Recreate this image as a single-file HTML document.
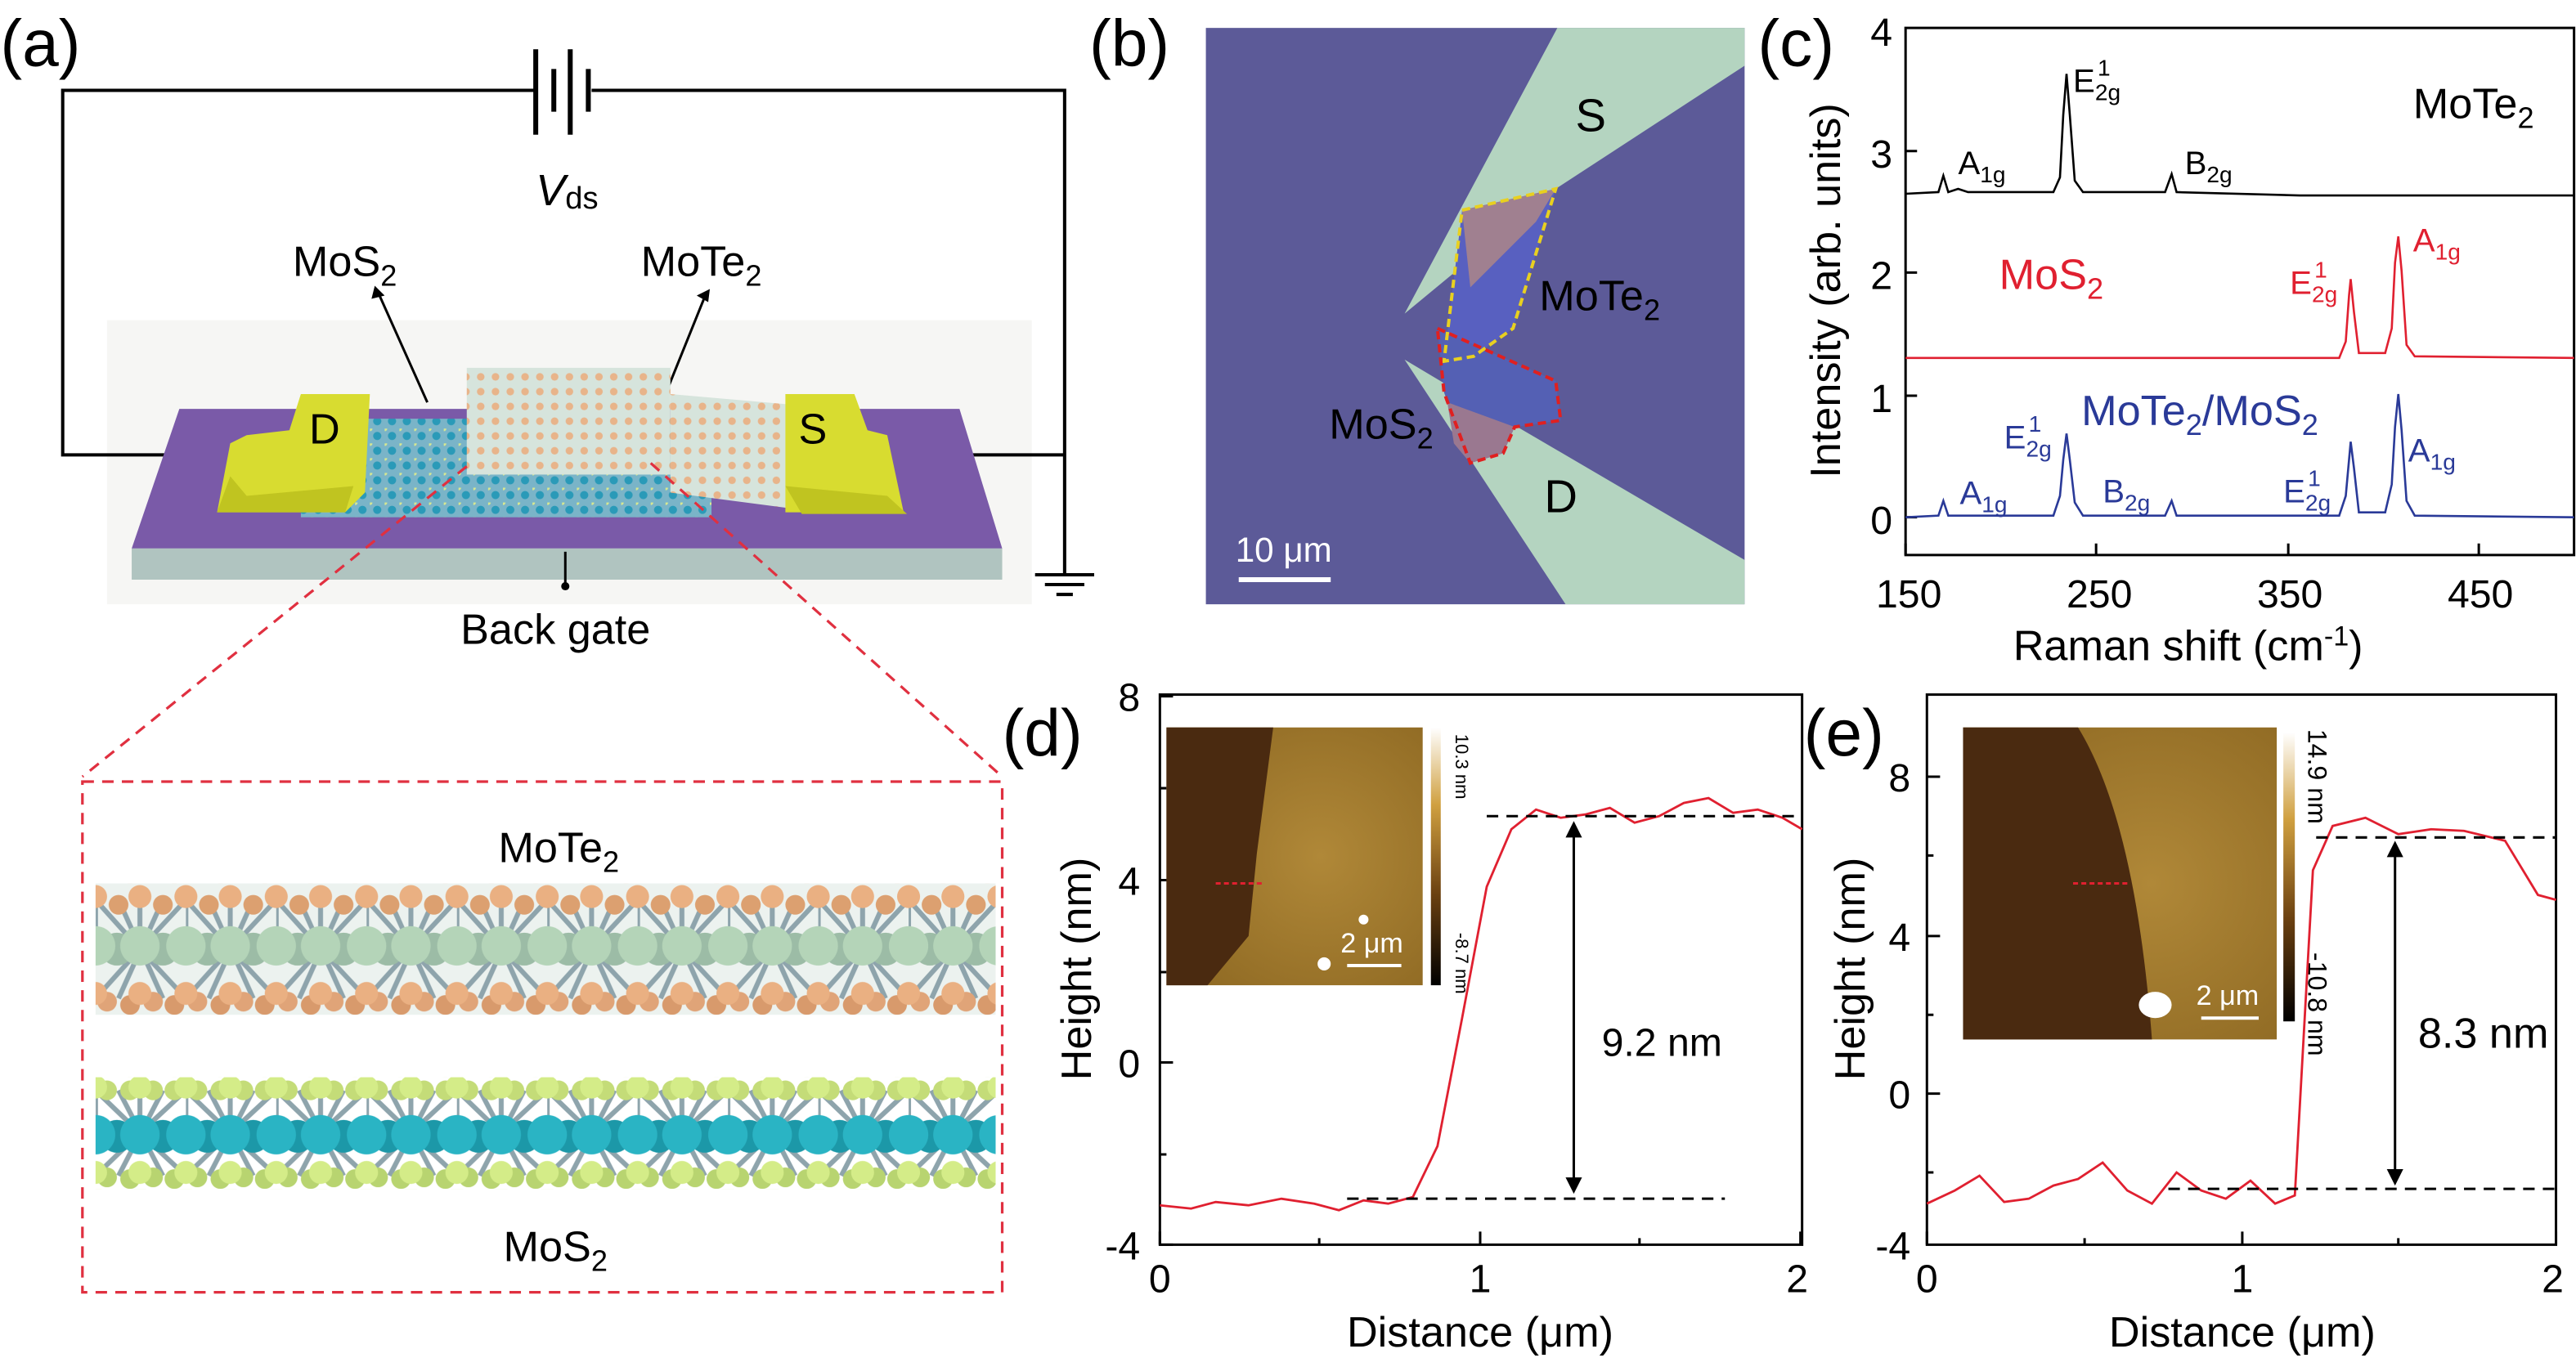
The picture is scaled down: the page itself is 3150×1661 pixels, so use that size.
<!DOCTYPE html>
<html><head><meta charset="utf-8"><style>
html,body{margin:0;padding:0;background:#fff;}
svg{display:block;}
text{font-family:"Liberation Sans",Arial,sans-serif;}
</style></head><body>
<svg width="3150" height="1661" viewBox="0 0 1568 827" xmlns="http://www.w3.org/2000/svg">
<defs>
<pattern id="mote" x="58" y="538" width="55" height="80" patternUnits="userSpaceOnUse">
<rect width="55" height="80" fill="#c8d8d0" opacity="0.35"/>
<path d="M0 10 L27 40 L55 10 M0 70 L27 40 L55 70 M14 10 L41 70 M41 10 L14 70 M0 40 L0 10 M27 40 V10" stroke="#8ea4ac" stroke-width="3" fill="none"/>
<circle cx="13" cy="40" r="10" fill="#9cbca6"/><circle cx="41" cy="40" r="10" fill="#9cbca6"/>
<circle cx="27" cy="38" r="12" fill="#b4d4b8"/><circle cx="0" cy="38" r="12" fill="#b4d4b8"/><circle cx="55" cy="38" r="12" fill="#b4d4b8"/>
<circle cx="14" cy="13" r="6" fill="#dca070"/><circle cx="41" cy="13" r="6" fill="#dca070"/>
<circle cx="0" cy="8" r="7" fill="#eab082"/><circle cx="27" cy="8" r="7" fill="#eab082"/><circle cx="55" cy="8" r="7" fill="#eab082"/>
<circle cx="7" cy="72" r="6" fill="#e0a478"/><circle cx="21" cy="74" r="6" fill="#d89a6c"/><circle cx="35" cy="72" r="6" fill="#e0a478"/><circle cx="48" cy="74" r="6" fill="#d89a6c"/>
<circle cx="0" cy="67" r="7" fill="#eab082"/><circle cx="27" cy="67" r="7" fill="#eab082"/><circle cx="55" cy="67" r="7" fill="#eab082"/>
</pattern>
<pattern id="mos" x="58" y="656" width="55" height="68" patternUnits="userSpaceOnUse">
<path d="M0 8 L27 34 L55 8 M0 60 L27 34 L55 60 M14 8 L41 60 M41 8 L14 60 M27 34 V8 M0 34 V8" stroke="#8ea4ac" stroke-width="3" fill="none"/>
<circle cx="7" cy="8" r="6" fill="#c4dc78"/><circle cx="21" cy="8" r="6" fill="#c4dc78"/><circle cx="35" cy="8" r="6" fill="#c4dc78"/><circle cx="48" cy="8" r="6" fill="#c4dc78"/>
<circle cx="13" cy="36" r="10" fill="#1c98a8"/><circle cx="41" cy="36" r="10" fill="#1c98a8"/>
<circle cx="27" cy="35" r="12" fill="#2ab4c4"/><circle cx="0" cy="35" r="12" fill="#2ab4c4"/><circle cx="55" cy="35" r="12" fill="#2ab4c4"/>
<circle cx="0" cy="6" r="7" fill="#d4ec88"/><circle cx="27" cy="6" r="7" fill="#d4ec88"/><circle cx="55" cy="6" r="7" fill="#d4ec88"/>
<circle cx="7" cy="61" r="6" fill="#b8d470"/><circle cx="21" cy="62" r="6" fill="#b8d470"/><circle cx="35" cy="61" r="6" fill="#b8d470"/><circle cx="48" cy="62" r="6" fill="#b8d470"/>
<circle cx="0" cy="58" r="7" fill="#d4ec88"/><circle cx="27" cy="58" r="7" fill="#d4ec88"/><circle cx="55" cy="58" r="7" fill="#d4ec88"/>
</pattern>
<pattern id="lat1" width="9" height="9" patternUnits="userSpaceOnUse"><rect width="9" height="9" fill="#d6e4dc"/><circle cx="4.5" cy="4.5" r="2.3" fill="#e8b48a"/></pattern>
<pattern id="lat2" width="9" height="9" patternUnits="userSpaceOnUse"><rect width="9" height="9" fill="#7ab4c8"/><circle cx="4.5" cy="4.5" r="2.5" fill="#2a9ab8"/><circle cx="0" cy="0" r="1.6" fill="#d8e890"/></pattern>
<radialGradient id="afm" cx="0.6" cy="0.5" r="0.8"><stop offset="0" stop-color="#b08838"/><stop offset="1" stop-color="#8a6520"/></radialGradient>
<linearGradient id="cbar" x1="0" y1="0" x2="0" y2="1"><stop offset="0" stop-color="#fff"/><stop offset="0.3" stop-color="#d0a040"/><stop offset="0.65" stop-color="#6a4010"/><stop offset="1" stop-color="#000"/></linearGradient>
</defs>

<!-- ===== (a) ===== -->
<text x="0" y="40" font-size="40">(a)</text>
<rect x="65" y="195" width="563" height="173" fill="#f6f6f4"/>
<g stroke="#000" stroke-width="2" fill="none">
<path d="M325 55 H38 V277 H150"/>
<path d="M360 55 H648 V350"/>
<path d="M540 277 H648"/>
<path d="M630 350 H666 M636 356 H660 M643 362 H653"/>
</g>
<g stroke="#000" stroke-width="3">
<line x1="326" y1="30" x2="326" y2="82"/><line x1="337" y1="42" x2="337" y2="68"/>
<line x1="347" y1="30" x2="347" y2="82"/><line x1="358" y1="42" x2="358" y2="68"/>
</g>
<text x="326" y="125" font-size="27" font-style="italic">V</text><text x="344" y="127" font-size="19">ds</text>
<text x="178" y="168" font-size="26">MoS<tspan font-size="18" dy="6">2</tspan></text>
<text x="390" y="168" font-size="26">MoTe<tspan font-size="18" dy="6">2</tspan></text>
<g stroke="#000" stroke-width="1.5"><line x1="230" y1="178" x2="260" y2="245"/><line x1="430" y1="178" x2="405" y2="240"/></g>
<path d="M226 182 l2 -8 l6 6 z M432 176 l-1 8 l-7 -4 z" fill="#000"/>
<polygon points="109,249 584,249 610,334 80,334" fill="#7a5aa8"/>
<rect x="80" y="334" width="530" height="19" fill="#b0c4c0"/>
<rect x="183" y="255" width="250" height="60" fill="url(#lat2)"/>
<rect x="284" y="224" width="124" height="65" fill="url(#lat1)"/>
<polygon points="408,240 500,248 507,313 408,300" fill="url(#lat1)"/>
<polygon points="183,240 225,240 222,300 210,312 132,312 140,270 150,265 176,262" fill="#d8dc30"/>
<polygon points="132,312 140,290 150,302 215,296 210,312" fill="#c0c420"/>
<text x="188" y="270" font-size="26">D</text>
<polygon points="478,240 520,240 528,262 540,265 550,312 478,312" fill="#d8dc30"/>
<polygon points="478,296 540,302 552,313 488,313" fill="#c0c420"/>
<text x="486" y="270" font-size="26">S</text>
<line x1="344" y1="336" x2="344" y2="356" stroke="#000" stroke-width="1.5"/><circle cx="344" cy="357" r="2.5"/>
<text x="338" y="392" font-size="26" text-anchor="middle">Back gate</text>
<g stroke="#e03040" stroke-width="1.6" stroke-dasharray="7,5" fill="none">
<line x1="284" y1="284" x2="50" y2="473"/><line x1="396" y1="282" x2="610" y2="473"/>
<rect x="50" y="476" width="560" height="311"/>
</g>
<rect x="58" y="538" width="548" height="80" fill="url(#mote)"/>
<rect x="58" y="656" width="548" height="68" fill="url(#mos)"/>
<text x="340" y="525" font-size="26" text-anchor="middle">MoTe<tspan font-size="18" dy="6">2</tspan></text>
<text x="338" y="768" font-size="26" text-anchor="middle">MoS<tspan font-size="18" dy="6">2</tspan></text>

<!-- ===== (b) ===== -->
<text x="663" y="40" font-size="40">(b)</text>
<rect x="734" y="17" width="328" height="351" fill="#5c5a98"/>
<polygon points="948,17 1062,17 1062,40 947,115 855,191" fill="#b4d4c0"/>
<polygon points="855,219 922,259 1062,341 1062,368 953,368" fill="#b4d4c0"/>
<polygon points="890,128 947,115 921,200 897,217 879,220" fill="#5860c0"/>
<polygon points="890,128 947,115 935,135 895,175" fill="#a08090"/>
<polygon points="875,200 947,232 950,256 922,260 915,276 895,282 879,239" fill="#5460b4"/>
<polygon points="881,245 922,260 915,276 895,282 885,270" fill="#9a7890"/>
<g fill="none" stroke-dasharray="5,3" stroke-width="2"><polygon points="890,128 947,115 921,200 897,217 879,220" stroke="#e8d020"/><polygon points="875,200 947,232 950,256 922,260 915,276 895,282 879,239" stroke="#e02020"/></g>
<text x="959" y="80" font-size="28">S</text>
<text x="937" y="189" font-size="26">MoTe<tspan font-size="18" dy="6">2</tspan></text>
<text x="809" y="267" font-size="26">MoS<tspan font-size="18" dy="6">2</tspan></text>
<text x="940" y="312" font-size="28">D</text>
<line x1="754" y1="353" x2="810" y2="353" stroke="#fff" stroke-width="3"/>
<text x="752" y="342" font-size="21" fill="#fff">10 μm</text>

<!-- ===== (c) ===== -->
<text x="1070" y="40" font-size="40">(c)</text>
<g stroke="#000" stroke-width="1.5" fill="none">
<rect x="1160" y="17" width="407" height="321"/>
<path d="M1160 338 v-7 M1276 338 v-7 M1393 338 v-7 M1509 338 v-7"/>
<path d="M1160 315 h7 M1160 241 h7 M1160 166 h7 M1160 92 h7"/>
</g>
<g font-size="24" text-anchor="middle">
<text x="1162" y="370">150</text><text x="1278" y="370">250</text><text x="1394" y="370">350</text><text x="1510" y="370">450</text>
</g>
<g font-size="24" text-anchor="end">
<text x="1152" y="325">0</text><text x="1152" y="251">1</text><text x="1152" y="176">2</text><text x="1152" y="102">3</text><text x="1152" y="28">4</text>
</g>
<text x="1332" y="402" font-size="26" text-anchor="middle">Raman shift (cm<tspan font-size="17" dy="-9">-1</tspan><tspan dy="9">)</tspan></text>
<text transform="translate(1120,177) rotate(-90)" font-size="26" text-anchor="middle">Intensity (arb. units)</text>
<path fill="none" stroke="#000" stroke-width="1.3" d="M1160 118 L1180 117 L1183 107 L1186 117 L1192 115 L1198 117 L1250 117 L1254 108 L1256 70 L1258 45 L1260 70 L1263 110 L1268 117 L1318 117 L1322 106 L1325 117 L1400 119 L1567 119"/>
<path fill="none" stroke="#e02030" stroke-width="1.3" d="M1160 218 L1424 218 L1428 208 L1430 180 L1431 170 L1433 190 L1436 215 L1452 215 L1456 200 L1458 160 L1460 144 L1462 165 L1465 210 L1470 217 L1567 218"/>
<path fill="none" stroke="#2a3a98" stroke-width="1.3" d="M1160 315 L1180 314 L1183 305 L1186 314 L1250 314 L1254 302 L1256 280 L1258 264 L1260 280 L1263 306 L1268 314 L1318 314 L1322 305 L1325 314 L1424 314 L1428 302 L1430 280 L1431 269 L1433 285 L1436 312 L1452 312 L1456 295 L1458 260 L1460 240 L1462 262 L1465 305 L1470 314 L1567 315"/>
<g font-size="20">
<text x="1192" y="106">A<tspan font-size="14" dy="5">1g</tspan></text>
<text x="1262" y="56">E<tspan font-size="14" dy="5">2g</tspan><tspan font-size="14" dx="-14" dy="-15">1</tspan></text>
<text x="1330" y="106">B<tspan font-size="14" dy="5">2g</tspan></text>
<text x="1469" y="72" font-size="26">MoTe<tspan font-size="18" dy="6">2</tspan></text>
</g>
<g font-size="20" fill="#e02030">
<text x="1217" y="176" font-size="26">MoS<tspan font-size="18" dy="6">2</tspan></text>
<text x="1394" y="179">E<tspan font-size="14" dy="5">2g</tspan><tspan font-size="14" dx="-14" dy="-15">1</tspan></text>
<text x="1469" y="153">A<tspan font-size="14" dy="5">1g</tspan></text>
</g>
<g font-size="20" fill="#2a3a98">
<text x="1267" y="259" font-size="26">MoTe<tspan font-size="18" dy="6">2</tspan><tspan dy="-6">/MoS</tspan><tspan font-size="18" dy="6">2</tspan></text>
<text x="1220" y="273">E<tspan font-size="14" dy="5">2g</tspan><tspan font-size="14" dx="-14" dy="-15">1</tspan></text>
<text x="1193" y="307">A<tspan font-size="14" dy="5">1g</tspan></text>
<text x="1280" y="306">B<tspan font-size="14" dy="5">2g</tspan></text>
<text x="1390" y="306">E<tspan font-size="14" dy="5">2g</tspan><tspan font-size="14" dx="-14" dy="-15">1</tspan></text>
<text x="1466" y="281">A<tspan font-size="14" dy="5">1g</tspan></text>
</g>

<!-- ===== (d) ===== -->
<text x="610" y="460" font-size="40">(d)</text>
<g stroke="#000" stroke-width="1.5" fill="none">
<rect x="706" y="423" width="391" height="335"/>
<path d="M706 758 v-8 M901 758 v-8 M1096 758 v-8 M803 758 v-4 M998 758 v-4"/>
<path d="M706 424 h8 M706 536 h8 M706 647 h8 M706 758 h8 M706 480 h4 M706 592 h4 M706 703 h4"/>
</g>
<g font-size="24" text-anchor="middle"><text x="706" y="787">0</text><text x="901" y="787">1</text><text x="1094" y="787">2</text></g>
<g font-size="24" text-anchor="end"><text x="694" y="433">8</text><text x="694" y="545">4</text><text x="694" y="656">0</text><text x="694" y="767">-4</text></g>
<text x="901" y="820" font-size="26" text-anchor="middle">Distance (μm)</text>
<text transform="translate(664,590) rotate(-90)" font-size="26" text-anchor="middle">Height (nm)</text>
<rect x="710" y="443" width="156" height="157" fill="url(#afm)"/>
<polygon points="710,443 775,443 765,520 760,570 735,600 710,600" fill="#4a2a10"/>
<circle cx="806" cy="587" r="4" fill="#fff"/><circle cx="830" cy="560" r="3" fill="#fff"/>
<line x1="740" y1="538" x2="770" y2="538" stroke="#e02030" stroke-dasharray="3,2" stroke-width="1.5"/>
<line x1="820" y1="588" x2="853" y2="588" stroke="#fff" stroke-width="2"/>
<text x="816" y="580" font-size="17" fill="#fff">2 μm</text>
<rect x="871" y="443" width="6" height="157" fill="url(#cbar)"/>
<text transform="translate(886,447) rotate(90)" font-size="11">10.3 nm</text>
<text transform="translate(886,568) rotate(90)" font-size="11">-8.7 nm</text>
<path fill="none" stroke="#e02030" stroke-width="1.4" d="M706 734 L725 736 L740 732 L760 734 L780 730 L800 733 L815 737 L830 731 L845 733 L860 729 L875 698 L890 620 L905 540 L920 505 L935 493 L950 498 L965 496 L980 492 L995 501 L1010 497 L1025 489 L1040 486 L1055 495 L1070 493 L1085 498 L1097 505"/>
<g stroke="#000" stroke-width="1.5" stroke-dasharray="7,5"><line x1="820" y1="730" x2="1050" y2="730"/><line x1="905" y1="497" x2="1097" y2="497"/></g>
<line x1="958" y1="506" x2="958" y2="721" stroke="#000" stroke-width="1.5"/>
<path d="M958 500 l-5 10 h10 z M958 727 l-5 -10 h10 z"/>
<text x="975" y="643" font-size="24">9.2 nm</text>

<!-- ===== (e) ===== -->
<text x="1098" y="460" font-size="40">(e)</text>
<g stroke="#000" stroke-width="1.5" fill="none">
<rect x="1173" y="423" width="383" height="335"/>
<path d="M1173 758 v-8 M1365 758 v-8 M1556 758 v-8 M1269 758 v-4 M1460 758 v-4"/>
<path d="M1173 473 h8 M1173 570 h8 M1173 666 h8 M1173 521 h4 M1173 618 h4 M1173 714 h4"/>
</g>
<g font-size="24" text-anchor="middle"><text x="1173" y="787">0</text><text x="1365" y="787">1</text><text x="1554" y="787">2</text></g>
<g font-size="24" text-anchor="end"><text x="1163" y="482">8</text><text x="1163" y="579">4</text><text x="1163" y="675">0</text><text x="1163" y="767">-4</text></g>
<text x="1365" y="820" font-size="26" text-anchor="middle">Distance (μm)</text>
<text transform="translate(1135,590) rotate(-90)" font-size="26" text-anchor="middle">Height (nm)</text>
<rect x="1195" y="443" width="191" height="190" fill="url(#afm)"/>
<path d="M1195 443 H1265 Q1300 500 1310 633 H1195 Z" fill="#4a2a10"/>
<ellipse cx="1312" cy="612" rx="10" ry="8" fill="#fff"/>
<line x1="1262" y1="538" x2="1295" y2="538" stroke="#e02030" stroke-dasharray="3,2" stroke-width="1.5"/>
<line x1="1340" y1="620" x2="1375" y2="620" stroke="#fff" stroke-width="2"/>
<text x="1337" y="612" font-size="17" fill="#fff">2 μm</text>
<rect x="1390" y="446" width="7" height="176" fill="url(#cbar)"/>
<text transform="translate(1405,444) rotate(90)" font-size="16">14.9 nm</text>
<text transform="translate(1405,580) rotate(90)" font-size="16">-10.8 nm</text>
<path fill="none" stroke="#e02030" stroke-width="1.4" d="M1173 733 L1190 725 L1205 716 L1220 732 L1235 730 L1250 722 L1265 718 L1280 708 L1295 725 L1310 733 L1325 714 L1340 725 L1355 730 L1370 719 L1385 733 L1397 728 L1408 530 L1420 503 L1440 498 L1460 508 L1480 505 L1500 506 L1525 512 L1545 545 L1556 548"/>
<g stroke="#000" stroke-width="1.5" stroke-dasharray="7,5"><line x1="1320" y1="724" x2="1556" y2="724"/><line x1="1410" y1="510" x2="1556" y2="510"/></g>
<line x1="1458" y1="518" x2="1458" y2="716" stroke="#000" stroke-width="1.5"/>
<path d="M1458 512 l-5 10 h10 z M1458 722 l-5 -10 h10 z"/>
<text x="1472" y="638" font-size="26">8.3 nm</text>
</svg>
</body></html>
